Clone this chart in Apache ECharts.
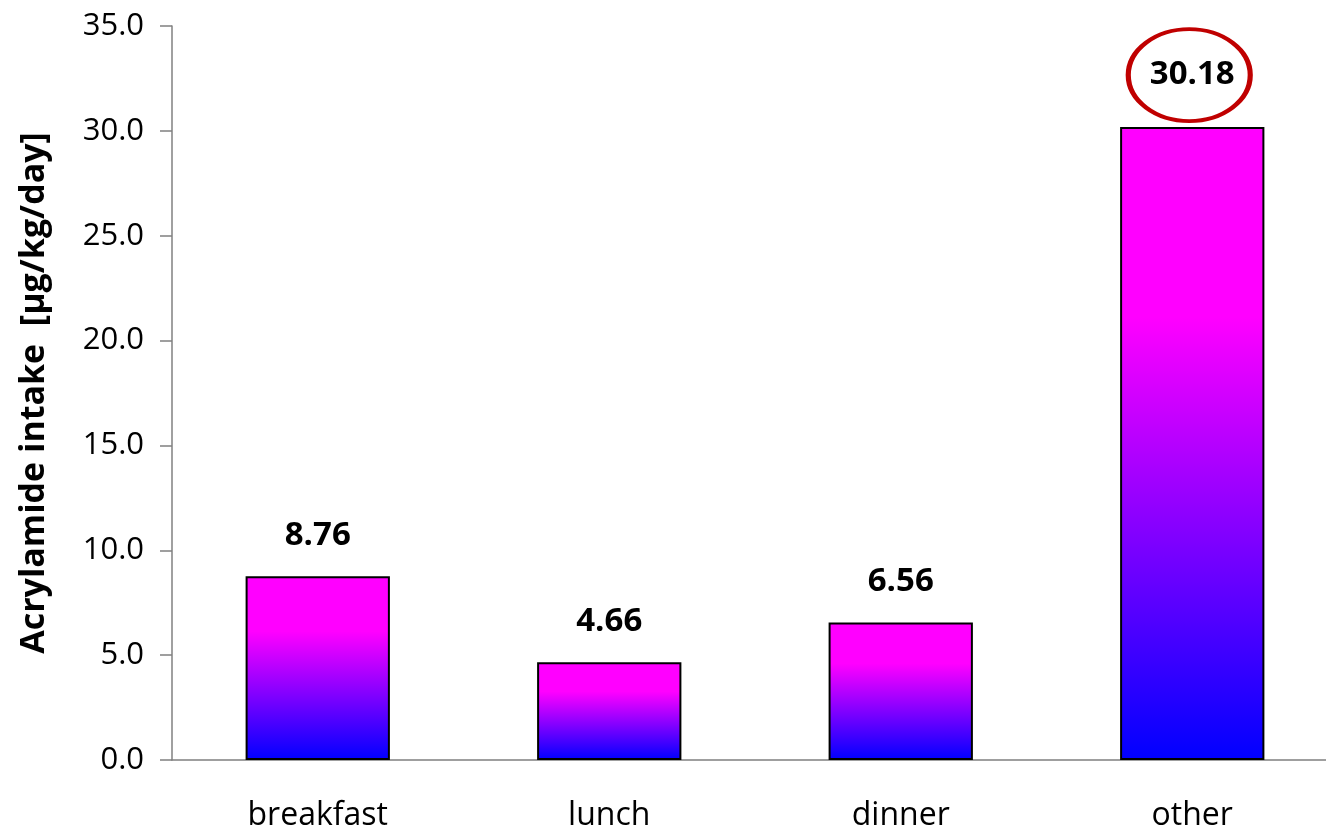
<!DOCTYPE html>
<html>
<head>
<meta charset="utf-8">
<script src="https://cdn.jsdelivr.net/npm/echarts@6/dist/echarts.min.js"></script>
<style>html,body{margin:0;padding:0;background:#fff;overflow:hidden;width:1326px;height:834px}#c{width:1338px;height:834px}</style>
</head>
<body>
<div id="c"></div>
<script>
const categories = ['breakfast', 'lunch', 'dinner', 'other'];
const intake = [8.76, 4.66, 6.56, 30.18];
const yTicks = [0, 5, 10, 15, 20, 25, 30, 35];
const highlighted = 'other';

const FONT = '"Open Sans", "Noto Sans", sans-serif';
const chart = echarts.init(document.getElementById('c'));
const barGradient = new echarts.graphic.LinearGradient(0, 0, 0, 1, [
  { offset: 0, color: '#ff00ff' },
  { offset: 0.3, color: '#ff00ff' },
  { offset: 1, color: '#0000ff' }
]);
const hiIdx = categories.indexOf(highlighted);
const barData = intake.map((v, i) => i === hiIdx
  ? { value: v, label: { distance: 36 } }
  : { value: v });
chart.setOption({
  animation: false,
  grid: { left: 172, right: 0, top: 26, bottom: 74, containLabel: false },
  xAxis: {
    type: 'category',
    data: categories,
    axisLine: { lineStyle: { color: '#808080', width: 1.5 } },
    axisTick: { length: 10, lineStyle: { color: '#808080', width: 1.5 } },
    axisLabel: { color: '#000', fontSize: 32, fontFamily: FONT, margin: 40 }
  },
  yAxis: {
    type: 'value',
    min: yTicks[0],
    max: yTicks[yTicks.length - 1],
    interval: 5,
    name: 'Acrylamide intake  [µg/kg/day]',
    nameLocation: 'middle',
    nameGap: 121,
    nameTextStyle: { color: '#000', fontSize: 34, fontWeight: 'bold', fontFamily: FONT },
    axisLine: { show: true, lineStyle: { color: '#808080', width: 1.5 } },
    axisTick: { show: true, length: 12, lineStyle: { color: '#808080', width: 1.5 } },
    splitLine: { show: false },
    axisLabel: {
      color: '#000', fontSize: 31, fontFamily: FONT, margin: 28,
      formatter: v => v.toFixed(1)
    }
  },
  series: [{
    type: 'bar',
    data: barData,
    barWidth: '49.5%',
    itemStyle: { color: barGradient, borderColor: '#000', borderWidth: 2 },
    label: {
      show: true, position: 'top', distance: 24,
      color: '#000', fontSize: 33, fontWeight: 'bold', fontFamily: FONT,
      formatter: p => p.value.toFixed(2)
    },
    markPoint: {
      symbol: 'circle',
      symbolSize: [122, 92],
      symbolOffset: [-3, -52],
      silent: true,
      label: { show: false },
      itemStyle: { color: 'rgba(0,0,0,0)', borderColor: '#c00000', borderWidth: 4.5 },
      data: [{ coord: [hiIdx, intake[hiIdx]] }]
    }
  }]
});
</script>
</body>
</html>
